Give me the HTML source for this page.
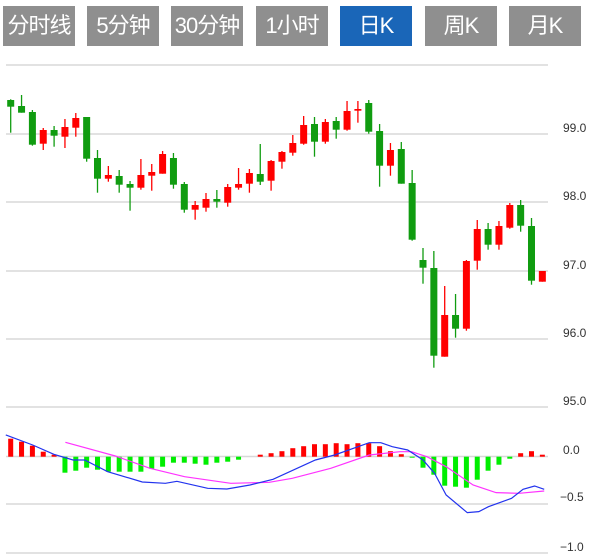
<!DOCTYPE html>
<html><head><meta charset="utf-8"><style>
body{margin:0;background:#fff;width:601px;height:554px;overflow:hidden;position:relative;font-family:"Liberation Sans","Noto Sans CJK SC",sans-serif}
.b{position:absolute;top:6px;width:72px;height:40px;background:#8f8f8f;color:#fff;font-size:22px;line-height:40px;text-align:center;letter-spacing:-1px}
.a{background:#1a66b8}
.l{position:absolute;left:563px;font-size:12px;color:#333}
</style></head><body>
<div class="b" style="left:3px">分时线</div>
<div class="b" style="left:87px">5分钟</div>
<div class="b" style="left:171px">30分钟</div>
<div class="b" style="left:256px">1小时</div>
<div class="b a" style="left:340px">日K</div>
<div class="b" style="left:425px">周K</div>
<div class="b" style="left:509px">月K</div>
<div class="l" style="top:121px">99.0</div>
<div class="l" style="top:189px">98.0</div>
<div class="l" style="top:258px">97.0</div>
<div class="l" style="top:326px">96.0</div>
<div class="l" style="top:394px">95.0</div>
<div class="l" style="top:443px">0.0</div>
<div class="l" style="top:490px;left:560px">−0.5</div>
<div class="l" style="top:540px;left:560px">−1.0</div>
<svg id="s" width="601" height="554" style="position:absolute;left:0;top:0">
<g stroke="#d8d8d8" stroke-width="1.5">
<line x1="6" x2="548" y1="65" y2="65"/><line x1="6" x2="548" y1="134" y2="134"/><line x1="6" x2="548" y1="202" y2="202"/><line x1="6" x2="548" y1="271" y2="271"/><line x1="6" x2="548" y1="339" y2="339"/><line x1="6" x2="548" y1="407" y2="407"/><line x1="6" x2="548" y1="456.5" y2="456.5"/><line x1="6" x2="548" y1="504" y2="504"/><line x1="6" x2="548" y1="553" y2="553"/>
</g>
<g id="c"></g>
<g transform="translate(0,420) scale(0.3846,0.3333)" fill="none" stroke-width="1.2">
<polyline vector-effect="non-scaling-stroke" stroke="#ff33ff" points="170,67 300,108 390,145 480,170 600,190 700,187 760,175 860,145 960,105 1040,95 1070,95 1110,110 1160,140 1230,195 1290,218 1350,220 1415,213"/>
<polyline vector-effect="non-scaling-stroke" stroke="#2233ee" points="15,45 85,75 140,103 190,120 220,120 280,155 370,186 430,190 460,184 540,205 590,207 650,195 710,178 820,120 870,105 960,68 990,68 1020,80 1060,90 1100,120 1130,160 1160,225 1215,278 1245,275 1270,260 1330,235 1360,208 1390,198 1415,208"/>
</g>
</svg>
<script>
var C=[[1,100,106.7,99.3,132.7],[1,106,112.7,95,112.7],[1,112,144.7,110,145.7],[0,130,143.7,128,150],[1,130,135.7,126,146.7],[0,127,136.7,119,148],[0,118,127.7,113,136.7],[1,117,158.7,117,161.7],[1,158,178.7,150,192.7],[0,175,178.7,166,181.7],[1,176,184.7,170,192.7],[1,184,187.7,181,210.7],[0,175,187.7,159,189.7],[0,172,175.7,164,190.7],[0,154,173.7,151,173.7],[1,158,184.7,153,188.7],[1,184,209.7,182,212.7],[0,205,209.7,201,219.7],[0,199,207.7,193,211.7],[1,199,201.7,190,207.7],[0,187,202.7,184,206.7],[0,184,187.7,168,189.7],[0,173,183.7,169,192.7],[1,174,181.7,144,185],[0,161,180.7,160,190.7],[0,152,161.7,151,168.7],[0,143,152.7,135,155.7],[0,125,143.7,116,144.7],[1,124,141.7,117,156.7],[0,122,141.7,119,143.7],[1,121,129.7,117,138.7],[0,111,129.7,101,130.7],[0,109,110.7,101,122.7],[1,103,131.7,100,133.7],[1,131,165.7,124,186.7],[0,150,165.7,143,175.7],[1,149,183.7,142,183.7],[1,183,239.7,170,240.7],[1,260,267.7,248,283.7],[1,268,355.7,251,367.7],[0,315,356.7,286,356.7],[1,315,328.7,294,337.7],[0,261,328.7,260,330.7],[0,229,260.7,220,269.7],[1,229,244.7,223,249.7],[0,226,244.7,221,249.7],[0,205,227.7,203,228.7],[1,205,225.7,200,231.7],[1,226,280.7,218,284.7],[0,271,281.7,271,281.7]];
var M=[18,15,11,5,2,-16,-14,-11,-13,-15,-15,-15,-15,-12,-10,-6,-6,-7,-8,-6,-5,-3,0,2,3.5,5.5,8.5,10.5,12.5,12.5,13.5,12.5,13.5,13.5,10.5,5.5,2.5,-1,-11,-18,-29,-30,-31,-23,-14,-8,-2,3.5,5.5,2];
var h='';
C.forEach(function(c,i){var x=10.7+i*10.85,col=c[0]?'#109c10':'#ff0000';
h+='<line x1="'+x+'" x2="'+x+'" y1="'+c[3]+'" y2="'+c[4]+'" stroke="'+col+'" stroke-width="1.3"/>';
h+='<rect x="'+(x-3.5)+'" y="'+c[1]+'" width="7" height="'+Math.max(1.5,c[2]-c[1])+'" fill="'+col+'"/>';});
M.forEach(function(v,i){if(!v)return;var x=10.7+i*10.85-2.5;
h+='<rect x="'+x+'" y="'+(v>0?456.7-v:456.7)+'" width="5" height="'+Math.abs(v)+'" fill="'+(v>0?'#ff0000':'#00ee00')+'"/>';});
document.getElementById('c').innerHTML=h;
</script>
</body></html>
